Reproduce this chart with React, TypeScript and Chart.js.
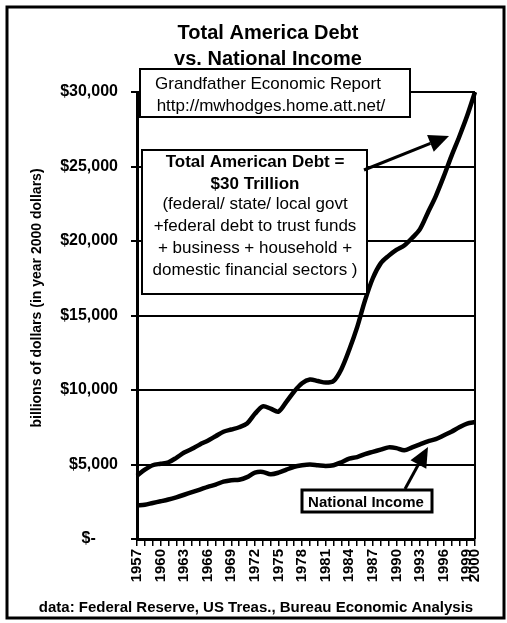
import React, { useEffect, useRef } from 'react';
import { Chart, registerables } from 'chart.js';

Chart.register(...registerables);

const years = [
  '1957', '1958', '1959', '1960', '1961', '1962', '1963', '1964', '1965', '1966',
  '1967', '1968', '1969', '1970', '1971', '1972', '1973', '1974', '1975', '1976',
  '1977', '1978', '1979', '1980', '1981', '1982', '1983', '1984', '1985', '1986',
  '1987', '1988', '1989', '1990', '1991', '1992', '1993', '1994', '1995', '1996',
  '1997', '1998', '1999', '2000',
];

// billions of dollars (year 2000 dollars)
const totalDebt = [
  4250, 4650, 4950, 5050, 5150, 5450, 5800, 6050, 6350, 6600,
  6900, 7200, 7350, 7500, 7750, 8400, 8900, 8750, 8550, 9200,
  9900, 10450, 10700, 10600, 10500, 10600, 11400, 12700, 14200, 16000,
  17500, 18500, 19000, 19400, 19700, 20200, 20800, 21900, 23000, 24300,
  25700, 27000, 28400, 30000,
];

const nationalIncome = [
  2250, 2300, 2420, 2530, 2650, 2800, 2970, 3150, 3320, 3500,
  3650, 3850, 3950, 3980, 4150, 4450, 4500, 4350, 4450, 4650,
  4850, 4950, 5000, 4950, 4900, 4950, 5150, 5400, 5500, 5700,
  5850, 6000, 6150, 6100, 5950, 6150, 6350, 6550, 6700, 6950,
  7200, 7500, 7750, 7850,
];

const xTickLabels = [
  '1957', '1960', '1963', '1966', '1969', '1972', '1975', '1978',
  '1981', '1984', '1987', '1990', '1993', '1996', '1999', '2000',
];

const yMin = 0;
const yMax = 30000;
const yStep = 5000;

const titleLines = ['Total America Debt', 'vs. National Income'];
const yAxisTitle = 'billions of dollars (in year 2000 dollars)';
const sourceNote = 'data: Federal Reserve, US Treas., Bureau Economic Analysis';
const reportLines = ['Grandfather Economic Report', 'http://mwhodges.home.att.net/'];
const debtNoteLines = [
  'Total American Debt =',
  '$30 Trillion',
  '(federal/ state/ local govt',
  '+federal debt to trust funds',
  '+ business + household +',
  'domestic financial sectors )',
];
const incomeNote = 'National Income';

const FONT = '"Liberation Sans", Arial, Helvetica, sans-serif';

function arrow(ctx: CanvasRenderingContext2D, fx: number, fy: number, tx: number, ty: number, lw: number) {
  const ang = Math.atan2(ty - fy, tx - fx);
  const len = 20;
  const hw = 9;
  const bx = tx - Math.cos(ang) * len;
  const by = ty - Math.sin(ang) * len;
  ctx.lineWidth = lw;
  ctx.beginPath();
  ctx.moveTo(fx, fy);
  ctx.lineTo(bx, by);
  ctx.stroke();
  ctx.beginPath();
  ctx.moveTo(tx, ty);
  ctx.lineTo(bx + Math.sin(ang) * hw, by - Math.cos(ang) * hw);
  ctx.lineTo(bx - Math.sin(ang) * hw, by + Math.cos(ang) * hw);
  ctx.closePath();
  ctx.fill();
}

const decorPlugin = {
  id: 'decor',
  afterDraw(chart: any) {
    const ctx: CanvasRenderingContext2D = chart.ctx;
    const ca = chart.chartArea;
    ctx.save();
    ctx.strokeStyle = '#000';
    ctx.fillStyle = '#000';

    // outer frame
    ctx.lineWidth = 3;
    ctx.strokeRect(7, 7, 497, 611);

    // right border of plot
    ctx.lineWidth = 2;
    ctx.beginPath();
    ctx.moveTo(ca.right, ca.top);
    ctx.lineTo(ca.right, ca.bottom);
    ctx.stroke();

    // title
    ctx.textAlign = 'center';
    ctx.textBaseline = 'alphabetic';
    ctx.font = `bold 20px ${FONT}`;
    ctx.fillText(titleLines[0], 268, 39);
    ctx.fillText(titleLines[1], 268, 65);

    // y-axis title
    ctx.save();
    ctx.translate(37, 298);
    ctx.rotate(-Math.PI / 2);
    ctx.font = `bold 14px ${FONT}`;
    ctx.textBaseline = 'middle';
    ctx.fillText(yAxisTitle, 0, 0, 325);
    ctx.restore();

    // footer
    ctx.font = `bold 15px ${FONT}`;
    ctx.textBaseline = 'alphabetic';
    ctx.fillText(sourceNote, 256, 612, 468);

    // report box
    ctx.fillStyle = '#fff';
    ctx.fillRect(140, 69, 270, 48);
    ctx.strokeStyle = '#000';
    ctx.lineWidth = 2;
    ctx.strokeRect(140, 69, 270, 48);
    ctx.fillStyle = '#000';
    ctx.font = `17px ${FONT}`;
    ctx.fillText(reportLines[0], 268, 89, 250);
    ctx.fillText(reportLines[1], 271, 111, 250);

    // debt note box
    ctx.fillStyle = '#fff';
    ctx.fillRect(142, 150, 225, 144);
    ctx.lineWidth = 2;
    ctx.strokeRect(142, 150, 225, 144);
    ctx.fillStyle = '#000';
    const baselines = [167, 189, 209, 231, 253, 275];
    debtNoteLines.forEach((t, i) => {
      ctx.font = i < 2 ? `bold 17px ${FONT}` : `17px ${FONT}`;
      ctx.fillText(t, 255, baselines[i], 218);
    });

    // debt arrow
    arrow(ctx, 364, 170, 449, 136, 3);

    // national income box
    ctx.fillStyle = '#fff';
    ctx.fillRect(302, 490, 130, 22);
    ctx.lineWidth = 3;
    ctx.strokeRect(302, 490, 130, 22);
    ctx.fillStyle = '#000';
    ctx.font = `bold 15px ${FONT}`;
    ctx.fillText(incomeNote, 366, 507, 120);

    // income arrow
    arrow(ctx, 405, 489, 428, 447, 3);

    ctx.restore();
  },
};

export default function App() {
  const ref = useRef<HTMLCanvasElement | null>(null);

  useEffect(() => {
    if (!ref.current) return;
    const chart = new Chart(ref.current, {
      type: 'line',
      data: {
        labels: years,
        datasets: [
          {
            label: 'Total American Debt',
            data: totalDebt,
            borderColor: '#000',
            backgroundColor: '#000',
            borderWidth: 4.5,
            pointRadius: 0,
            tension: 0.3,
            fill: false,
          },
          {
            label: 'National Income',
            data: nationalIncome,
            borderColor: '#000',
            backgroundColor: '#000',
            borderWidth: 4.5,
            pointRadius: 0,
            tension: 0.3,
            fill: false,
          },
        ],
      },
      options: {
        responsive: false,
        animation: false,
        layout: { padding: { left: 0, right: 32, top: 92, bottom: 28 } },
        plugins: {
          legend: { display: false },
          tooltip: { enabled: false },
          title: { display: false },
        },
        scales: {
          x: {
            type: 'category',
            offset: false,
            grid: {
              drawOnChartArea: false,
              drawTicks: true,
              tickLength: 7,
              color: '#000',
              lineWidth: 1.5,
            },
            border: { color: '#000', width: 3 },
            ticks: {
              autoSkip: false,
              minRotation: 90,
              maxRotation: 90,
              padding: 3,
              color: '#000',
              font: { family: FONT, size: 15, weight: 'bold' },
              callback: (_v: any, i: number) => (xTickLabels.includes(years[i]) ? years[i] : ''),
            },
            afterFit: (s: any) => {
              s.height = 56;
            },
          },
          y: {
            min: yMin,
            max: yMax,
            ticks: {
              stepSize: yStep,
              padding: 13,
              color: '#000',
              font: { family: FONT, size: 16, weight: 'bold' },
              callback: (v: any) => (Number(v) === 0 ? '$-     ' : '$' + Number(v).toLocaleString('en-US')),
            },
            grid: { color: '#000', lineWidth: 2, tickLength: 6 },
            border: { color: '#000', width: 3 },
            afterFit: (s: any) => {
              s.width = 137;
            },
          },
        },
      } as any,
      plugins: [decorPlugin],
    });
    return () => chart.destroy();
  }, []);

  return (
    <div style={{ position: 'absolute', left: 0, top: 0, width: 507, height: 623, background: '#fff' }}>
      <canvas ref={ref} width={507} height={623} style={{ display: 'block' }} />
    </div>
  );
}
